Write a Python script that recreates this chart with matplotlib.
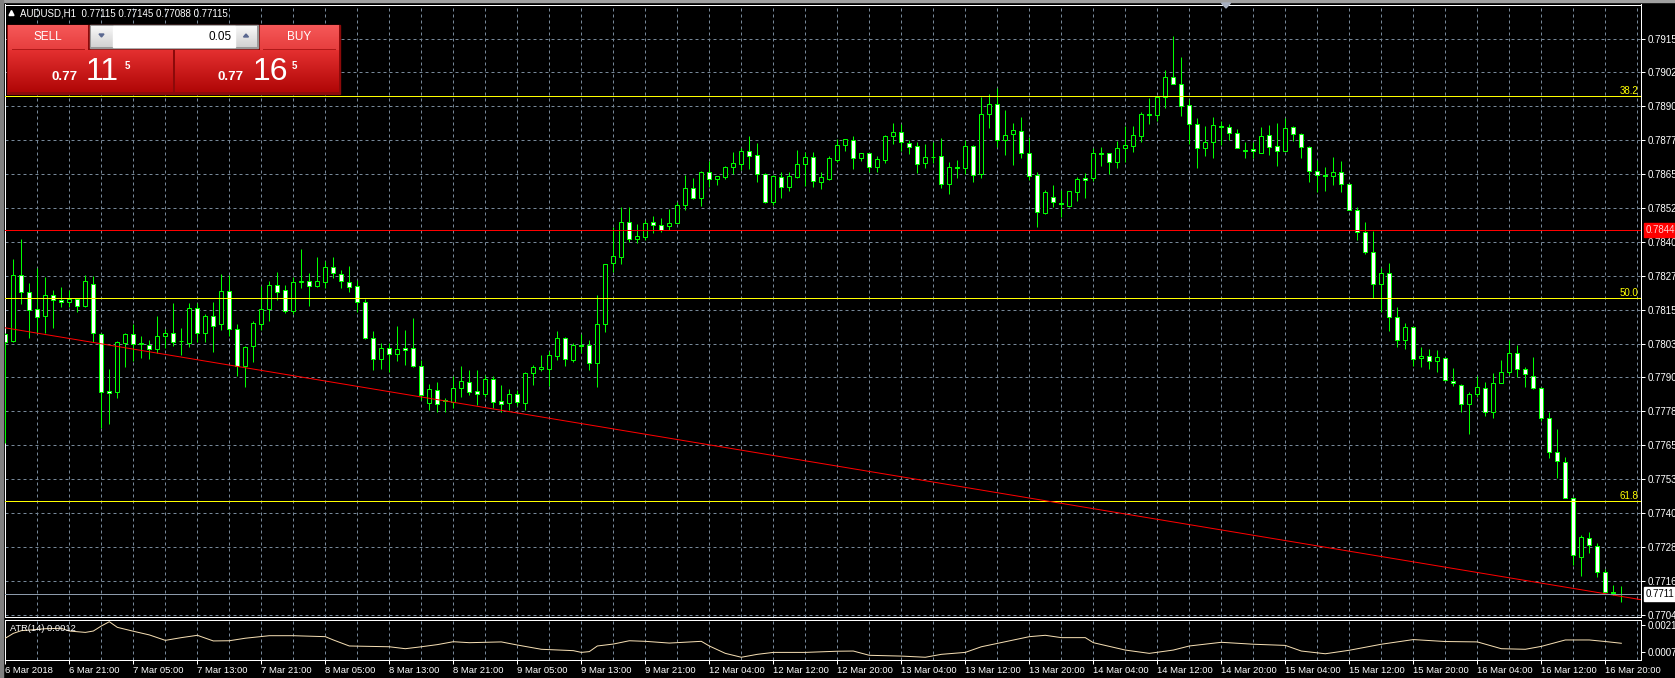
import numpy as np
import matplotlib
matplotlib.use("Agg")
import matplotlib.pyplot as plt
from matplotlib.patches import Rectangle, Polygon

# ---------------- data ----------------
title_text = "AUDUSD,H1  0.77115 0.77145 0.77088 0.77115"

time_labels = ["6 Mar 2018", "6 Mar 21:00", "7 Mar 05:00", "7 Mar 13:00", "7 Mar 21:00",
               "8 Mar 05:00", "8 Mar 13:00", "8 Mar 21:00", "9 Mar 05:00", "9 Mar 13:00",
               "9 Mar 21:00", "12 Mar 04:00", "12 Mar 12:00", "12 Mar 20:00", "13 Mar 04:00",
               "13 Mar 12:00", "13 Mar 20:00", "14 Mar 04:00", "14 Mar 12:00", "14 Mar 20:00",
               "15 Mar 04:00", "15 Mar 12:00", "15 Mar 20:00", "16 Mar 04:00", "16 Mar 12:00",
               "16 Mar 20:00"]
label_bars = list(range(0, 201, 8))

opens = [
    0.78068, 0.78043, 0.78286, 0.78221, 0.78159, 0.78133, 0.78210, 0.78192, 0.78185, 0.78197,
    0.78170, 0.78250, 0.78067, 0.77858, 0.77857, 0.78035, 0.78067, 0.78030, 0.78028, 0.78015,
    0.78060, 0.78072, 0.78042, 0.78036, 0.78162, 0.78071, 0.78134, 0.78103, 0.78224, 0.78085,
    0.77952, 0.78023, 0.78103, 0.78159, 0.78248, 0.78228, 0.78151, 0.78257, 0.78261, 0.78243,
    0.78260, 0.78312, 0.78289, 0.78257, 0.78243, 0.78185, 0.78052, 0.77976, 0.78016, 0.77994,
    0.78016, 0.78016, 0.77951, 0.77816, 0.77863, 0.77827, 0.77819, 0.77869, 0.77891, 0.77860,
    0.77850, 0.77902, 0.77823, 0.77816, 0.77848, 0.77816, 0.77924, 0.77941, 0.77939, 0.77989,
    0.78052, 0.77973, 0.78028, 0.78027, 0.77961, 0.78103, 0.78327, 0.78351, 0.78477, 0.78415,
    0.78425, 0.78477, 0.78466, 0.78465, 0.78476, 0.78542, 0.78602, 0.78567, 0.78660, 0.78635,
    0.78644, 0.78681, 0.78692, 0.78737, 0.78722, 0.78653, 0.78553, 0.78643, 0.78605, 0.78644,
    0.78690, 0.78717, 0.78626, 0.78636, 0.78706, 0.78759, 0.78777, 0.78711, 0.78730, 0.78678,
    0.78706, 0.78792, 0.78807, 0.78769, 0.78756, 0.78693, 0.78717, 0.78719, 0.78616, 0.78678,
    0.78677, 0.78755, 0.78653, 0.78873, 0.78909, 0.78777, 0.78799, 0.78810, 0.78730, 0.78649,
    0.78512, 0.78569, 0.78547, 0.78538, 0.78589, 0.78638, 0.78638, 0.78731, 0.78730, 0.78699,
    0.78748, 0.78758, 0.78794, 0.78873, 0.78869, 0.78935, 0.79009, 0.78982, 0.78906, 0.78836,
    0.78748, 0.78770, 0.78829, 0.78825, 0.78803, 0.78742, 0.78746, 0.78732, 0.78797, 0.78756,
    0.78739, 0.78825, 0.78799, 0.78754, 0.78666, 0.78650, 0.78648, 0.78660, 0.78616, 0.78522,
    0.78441, 0.78367, 0.78250, 0.78290, 0.78132, 0.78046, 0.78095, 0.77979, 0.77989, 0.77969,
    0.77981, 0.77897, 0.77882, 0.77811, 0.77847, 0.77872, 0.77782, 0.77890, 0.77930, 0.77998,
    0.77939, 0.77916, 0.77869, 0.77760, 0.77635, 0.77598, 0.77469, 0.77253, 0.77320, 0.77293,
    0.77198, 0.77123, 0.77115]
highs = [
    0.78072, 0.78343, 0.78416, 0.78255, 0.78309, 0.78276, 0.78229, 0.78240, 0.78229, 0.78199,
    0.78284, 0.78279, 0.78071, 0.77940, 0.78042, 0.78071, 0.78103, 0.78062, 0.78045, 0.78134,
    0.78087, 0.78182, 0.78090, 0.78182, 0.78182, 0.78140, 0.78185, 0.78287, 0.78283, 0.78105,
    0.78024, 0.78116, 0.78244, 0.78263, 0.78295, 0.78248, 0.78277, 0.78379, 0.78292, 0.78350,
    0.78336, 0.78350, 0.78301, 0.78317, 0.78265, 0.78196, 0.78079, 0.78034, 0.78034, 0.78097,
    0.78082, 0.78127, 0.77973, 0.77885, 0.77893, 0.77834, 0.77914, 0.77951, 0.77936, 0.77936,
    0.77918, 0.77914, 0.77882, 0.77866, 0.77863, 0.77928, 0.77955, 0.77991, 0.78007, 0.78079,
    0.78056, 0.78034, 0.78068, 0.78046, 0.78211, 0.78324, 0.78461, 0.78532, 0.78532, 0.78470,
    0.78486, 0.78500, 0.78494, 0.78526, 0.78550, 0.78650, 0.78638, 0.78665, 0.78703, 0.78647,
    0.78683, 0.78735, 0.78750, 0.78793, 0.78767, 0.78657, 0.78650, 0.78662, 0.78660, 0.78742,
    0.78733, 0.78736, 0.78662, 0.78720, 0.78782, 0.78781, 0.78793, 0.78730, 0.78732, 0.78720,
    0.78797, 0.78841, 0.78836, 0.78778, 0.78770, 0.78764, 0.78770, 0.78785, 0.78697, 0.78704,
    0.78778, 0.78760, 0.78937, 0.78946, 0.78968, 0.78888, 0.78840, 0.78863, 0.78791, 0.78660,
    0.78595, 0.78614, 0.78595, 0.78593, 0.78644, 0.78657, 0.78750, 0.78752, 0.78731, 0.78776,
    0.78830, 0.78830, 0.78880, 0.78933, 0.78940, 0.79035, 0.79159, 0.79082, 0.78929, 0.78858,
    0.78830, 0.78862, 0.78849, 0.78838, 0.78819, 0.78770, 0.78772, 0.78827, 0.78833, 0.78840,
    0.78858, 0.78830, 0.78803, 0.78756, 0.78705, 0.78678, 0.78715, 0.78702, 0.78617, 0.78532,
    0.78477, 0.78445, 0.78309, 0.78327, 0.78168, 0.78107, 0.78097, 0.78020, 0.78012, 0.78009,
    0.77985, 0.77943, 0.77885, 0.77857, 0.77916, 0.77894, 0.77924, 0.77973, 0.78046, 0.78028,
    0.77948, 0.77985, 0.77873, 0.77784, 0.77719, 0.77617, 0.77473, 0.77332, 0.77344, 0.77302,
    0.77208, 0.77149, 0.77145]
lows = [
    0.77669, 0.78039, 0.78177, 0.78055, 0.78071, 0.78071, 0.78089, 0.78168, 0.78168, 0.78150,
    0.78168, 0.78040, 0.77724, 0.77738, 0.77833, 0.77948, 0.77970, 0.77982, 0.77977, 0.77998,
    0.78018, 0.78025, 0.77992, 0.78022, 0.78040, 0.78040, 0.78002, 0.78082, 0.78062, 0.77916,
    0.77875, 0.77967, 0.78082, 0.78116, 0.78194, 0.78146, 0.78143, 0.78236, 0.78172, 0.78240,
    0.78236, 0.78272, 0.78238, 0.78221, 0.78148, 0.78050, 0.77938, 0.77940, 0.77928, 0.77970,
    0.77956, 0.77946, 0.77827, 0.77790, 0.77783, 0.77783, 0.77797, 0.77839, 0.77845, 0.77808,
    0.77839, 0.77797, 0.77783, 0.77790, 0.77805, 0.77790, 0.77882, 0.77934, 0.77878, 0.77973,
    0.77952, 0.77967, 0.77998, 0.77936, 0.77873, 0.78077, 0.78296, 0.78323, 0.78406, 0.78400,
    0.78412, 0.78437, 0.78443, 0.78449, 0.78476, 0.78522, 0.78561, 0.78537, 0.78608, 0.78614,
    0.78636, 0.78653, 0.78669, 0.78672, 0.78626, 0.78549, 0.78541, 0.78567, 0.78592, 0.78638,
    0.78610, 0.78608, 0.78598, 0.78631, 0.78697, 0.78739, 0.78672, 0.78702, 0.78662, 0.78662,
    0.78695, 0.78764, 0.78738, 0.78728, 0.78659, 0.78677, 0.78695, 0.78602, 0.78582, 0.78640,
    0.78654, 0.78626, 0.78640, 0.78824, 0.78754, 0.78724, 0.78687, 0.78714, 0.78632, 0.78460,
    0.78508, 0.78534, 0.78498, 0.78534, 0.78555, 0.78565, 0.78628, 0.78684, 0.78654, 0.78677,
    0.78699, 0.78736, 0.78772, 0.78838, 0.78848, 0.78897, 0.78982, 0.78867, 0.78763, 0.78677,
    0.78721, 0.78714, 0.78760, 0.78778, 0.78750, 0.78711, 0.78714, 0.78732, 0.78724, 0.78683,
    0.78739, 0.78775, 0.78714, 0.78626, 0.78587, 0.78592, 0.78614, 0.78587, 0.78522, 0.78412,
    0.78361, 0.78199, 0.78148, 0.78080, 0.78020, 0.78012, 0.77951, 0.77948, 0.77939, 0.77928,
    0.77897, 0.77879, 0.77784, 0.77701, 0.77836, 0.77769, 0.77760, 0.77890, 0.77918, 0.77912,
    0.77873, 0.77866, 0.77751, 0.77613, 0.77542, 0.77467, 0.77223, 0.77182, 0.77265, 0.77180,
    0.77124, 0.77113, 0.77088]
closes = [
    0.78039, 0.78283, 0.78221, 0.78155, 0.78129, 0.78210, 0.78192, 0.78185, 0.78197, 0.78170,
    0.78261, 0.78071, 0.77855, 0.77851, 0.78038, 0.78067, 0.78030, 0.78035, 0.78015, 0.78061,
    0.78072, 0.78040, 0.78041, 0.78162, 0.78071, 0.78134, 0.78098, 0.78224, 0.78085, 0.77952,
    0.78022, 0.78107, 0.78159, 0.78248, 0.78221, 0.78151, 0.78257, 0.78261, 0.78243, 0.78261,
    0.78312, 0.78290, 0.78261, 0.78239, 0.78185, 0.78052, 0.77976, 0.78016, 0.77994, 0.78012,
    0.78009, 0.77952, 0.77845, 0.77866, 0.77812, 0.77823, 0.77869, 0.77896, 0.77857, 0.77848,
    0.77904, 0.77819, 0.77812, 0.77848, 0.77819, 0.77924, 0.77946, 0.77948, 0.77990, 0.78052,
    0.77976, 0.78027, 0.78026, 0.77963, 0.78103, 0.78323, 0.78353, 0.78477, 0.78415, 0.78427,
    0.78473, 0.78466, 0.78449, 0.78473, 0.78540, 0.78602, 0.78567, 0.78660, 0.78635, 0.78647,
    0.78679, 0.78693, 0.78738, 0.78721, 0.78653, 0.78553, 0.78647, 0.78605, 0.78646, 0.78690,
    0.78715, 0.78627, 0.78642, 0.78711, 0.78760, 0.78781, 0.78711, 0.78730, 0.78678, 0.78708,
    0.78792, 0.78808, 0.78770, 0.78753, 0.78690, 0.78715, 0.78717, 0.78616, 0.78678, 0.78676,
    0.78755, 0.78649, 0.78873, 0.78909, 0.78777, 0.78797, 0.78814, 0.78730, 0.78648, 0.78514,
    0.78587, 0.78550, 0.78543, 0.78591, 0.78635, 0.78633, 0.78730, 0.78728, 0.78699, 0.78748,
    0.78760, 0.78796, 0.78873, 0.78871, 0.78935, 0.79009, 0.78982, 0.78902, 0.78836, 0.78748,
    0.78770, 0.78832, 0.78825, 0.78803, 0.78750, 0.78738, 0.78738, 0.78793, 0.78754, 0.78739,
    0.78821, 0.78799, 0.78754, 0.78666, 0.78649, 0.78648, 0.78660, 0.78616, 0.78522, 0.78441,
    0.78367, 0.78250, 0.78290, 0.78132, 0.78046, 0.78093, 0.77977, 0.77989, 0.77969, 0.77983,
    0.77900, 0.77888, 0.77812, 0.77847, 0.77873, 0.77782, 0.77890, 0.77930, 0.77998, 0.77939,
    0.77921, 0.77869, 0.77760, 0.77635, 0.77603, 0.77467, 0.77259, 0.77324, 0.77296, 0.77198,
    0.77125, 0.77120, 0.77115]

price_ticks = [0.79150, 0.79026, 0.78902, 0.78777, 0.78654, 0.78530, 0.78405, 0.78281, 0.78157,
               0.78033, 0.77909, 0.77785, 0.77661, 0.77537, 0.77413, 0.77289, 0.77164, 0.77040]
price_tick_labels = ["0.7915", "0.7902", "0.7890", "0.7877", "0.7865", "0.7852",
                     "0.7840", "0.7827", "0.7815", "0.7803", "0.7790", "0.7778",
                     "0.7765", "0.7753", "0.7740", "0.7728", "0.7716", "0.7704"]

fib_levels = [0.78938, 0.78199, 0.77457]
fib_names = ["38.2", "50.0", "61.8"]
hline_price = 0.78448
hline_label = "0.7844"
bid_price = 0.77115
bid_label = "0.7711"
trend_start = (-0.67, 0.78094)
trend_end = (203.96, 0.77098)

atr_bars = [0, 1, 2, 3, 5, 7, 8, 10, 11, 12, 13, 14, 16, 18, 20, 22, 24, 26, 28, 30, 33, 36,
            40, 41, 43, 48, 50, 52, 54, 56, 58, 62, 64, 67, 71, 72, 73, 74, 76, 78, 80, 83, 87,
            88, 90, 92, 94, 96, 100, 104, 106, 108, 112, 115, 117, 120, 122, 125, 128, 130, 132,
            135, 136, 140, 143, 146, 148, 152, 156, 160, 162, 165, 168, 172, 176, 180, 184, 187,
            190, 192, 195, 198, 200, 202]
atr_values = [0.00143, 0.00168, 0.00182, 0.00185, 0.00192, 0.00194, 0.00180, 0.00173, 0.00180,
              0.00206, 0.00228, 0.00199, 0.00179, 0.00160, 0.00132, 0.00146, 0.00158, 0.00129,
              0.00130, 0.00143, 0.00156, 0.00156, 0.00151, 0.00134, 0.00103, 0.00099, 0.00089,
              0.00099, 0.00110, 0.00125, 0.00120, 0.00124, 0.00108, 0.00086, 0.00079, 0.00070,
              0.00074, 0.00103, 0.00113, 0.00130, 0.00127, 0.00118, 0.00127, 0.00103, 0.00065,
              0.00045, 0.00060, 0.00070, 0.00070, 0.00076, 0.00077, 0.00055, 0.00051, 0.00045,
              0.00060, 0.00070, 0.00099, 0.00125, 0.00151, 0.00158, 0.00146, 0.00146, 0.00120,
              0.00082, 0.00065, 0.00082, 0.00103, 0.00122, 0.00112, 0.00106, 0.00077, 0.00063,
              0.00081, 0.00112, 0.00136, 0.00126, 0.00124, 0.00089, 0.00086, 0.00101, 0.00134,
              0.00134, 0.00126, 0.00117]
atr_ticks = [0.0021, 0.0007]
atr_tick_labels = ["0.0021", "0.0007"]
atr_title = "ATR(14) 0.0012"

lot_text = "0.05"
sell_parts = ("0.77", "11", "5")
buy_parts = ("0.77", "16", "5")

# ---------------- styling ----------------
W, H = 1675, 678
FONT = ["Liberation Sans", "DejaVu Sans"]
LIME = "#00FF00"
GRID = "#778899"
PX = 0.72  # 1 pixel in points

plt.rcParams["font.family"] = FONT

fig = plt.figure(figsize=(W / 100, H / 100), dpi=100, facecolor="black")


def frac(x0, y0, x1, y1):
    return [x0 / W, 1 - y1 / H, (x1 - x0) / W, (y1 - y0) / H]


ax = fig.add_axes(frac(4.5, 4.5, 1640.5, 616.5))
axa = fig.add_axes(frac(4.5, 619.5, 1640.5, 659.5))

XMIN = -0.104
XMAX = XMIN + 1636 / 8.0

for a in (ax, axa):
    a.set_facecolor("black")
    a.set_xlim(XMIN, XMAX)
    for s in a.spines.values():
        s.set_color("white")
        s.set_linewidth(PX)

ax.set_ylim(0.77034, 0.792745)
axa.set_ylim(0.000334, 0.002394)

# grid
for p in price_ticks:
    ax.axhline(p, color=GRID, lw=PX, ls=(0, (3, 3)), zorder=1)
for b in range(4, 205, 4):
    ax.axvline(b, color=GRID, lw=PX, ls=(0, (3, 3)), zorder=1)
    axa.axvline(b, color=GRID, lw=PX, ls=(0, (3, 3)), zorder=1)

# candles
o = np.array(opens); h = np.array(highs); l = np.array(lows); c = np.array(closes)
x = np.arange(len(o))
ax.vlines(x, l, h, color=LIME, lw=PX, zorder=3)
bull = c > o
ax.bar(x, np.abs(c - o), bottom=np.minimum(o, c), width=0.5,
       color=np.where(bull, "black", "white"), edgecolor=LIME, linewidth=PX, zorder=4)

# objects
for lv, nm in zip(fib_levels, fib_names):
    ax.axhline(lv, color="#FFFF00", lw=PX, zorder=5)
    ax.annotate(nm, xy=(1, lv), xycoords=("axes fraction", "data"), xytext=(-2, 5),
                textcoords="offset pixels", ha="right", va="center", color="#FFFF00",
                fontsize=7, zorder=6)
ax.axhline(hline_price, color="#FF0000", lw=PX, zorder=5)
ax.axline(trend_start, trend_end, color="#FF0000", lw=PX, zorder=5)
ax.axhline(bid_price, color="#8C9AAA", lw=PX, zorder=5)

# price axis
ax.yaxis.tick_right()
ax.set_yticks(price_ticks)
ax.set_yticklabels(price_tick_labels)
ax.tick_params(axis="y", colors="white", length=3, width=PX, pad=2, labelsize=7)
ax.set_xticks([])

ax.annotate(hline_label, xy=(1, hline_price), xycoords=("axes fraction", "data"),
            xytext=(5, 0), textcoords="offset pixels", ha="left", va="center",
            color="#FFD0D0", fontsize=7, annotation_clip=False,
            bbox=dict(boxstyle="square,pad=0.2", fc="#FF0000", ec="#FF0000"), zorder=7)
ax.annotate(bid_label, xy=(1, bid_price), xycoords=("axes fraction", "data"),
            xytext=(5, 0), textcoords="offset pixels", ha="left", va="center",
            color="black", fontsize=7, annotation_clip=False,
            bbox=dict(boxstyle="square,pad=0.2", fc="white", ec="white"), zorder=7)

# ATR panel
axa.plot(atr_bars, atr_values, color="#F5DEB3", lw=PX, zorder=3)
axa.text(0.0033, 0.78, atr_title, transform=axa.transAxes, color="white",
         fontsize=6.7, va="center", ha="left")
axa.yaxis.tick_right()
axa.set_yticks(atr_ticks)
axa.set_yticklabels(atr_tick_labels)
axa.tick_params(axis="y", colors="white", length=3, width=PX, pad=2, labelsize=7)
axa.set_xticks(label_bars)
axa.set_xticklabels(time_labels, ha="left")
axa.tick_params(axis="x", colors="white", length=3, width=PX, pad=2, labelsize=6.8)

# ---------------- overlay (title + trade panel) ----------------
ov = fig.add_axes([0, 0, 1, 1], zorder=10)
ov.patch.set_alpha(0)
ov.axis("off")


def grad(x0, y0, x1, y1, top, bot):
    t = np.linspace(0, 1, 64)[:, None, None]
    a_ = np.array(matplotlib.colors.to_rgb(top))[None, None, :]
    b_ = np.array(matplotlib.colors.to_rgb(bot))[None, None, :]
    ov.imshow((1 - t) * a_ + t * b_, extent=(x0, x1, y1, y0), aspect="auto",
              interpolation="bilinear", zorder=2)


# window frame
ov.add_patch(Rectangle((0, 0), W, 1.5, color="#A0A0A0", zorder=1))
ov.add_patch(Rectangle((0, 0), 3, H, color="#808080", zorder=1))
# chart shift marker
ov.add_patch(Polygon([(1221.5, 3), (1230.5, 3), (1226, 8)], closed=True, color="#A8B0C0", zorder=3))

# title
ov.add_patch(Polygon([(9, 15.5), (14, 15.5), (11.5, 10.5)], closed=True, color="white", zorder=3))
ov.text(20, 13, title_text, color="white", fontsize=7, va="center", ha="left", zorder=3)

# panel
ov.add_patch(Rectangle((7, 25), 332.5, 68.5, color="#8C0A0A", zorder=1))
grad(8, 25.5, 87.5, 50, "#F65858", "#E63E3E")
grad(259.5, 25.5, 338.5, 50, "#F65858", "#E63E3E")
ov.plot([12, 84], [49, 49], color="#B01818", lw=PX, zorder=3)
ov.plot([263, 335], [49, 49], color="#B01818", lw=PX, zorder=3)
ov.text(47.5, 37, "SELL", color="white", fontsize=8.5, ha="center", va="center", zorder=4)
ov.text(299, 37, "BUY", color="white", fontsize=8.5, ha="center", va="center", zorder=4)

ov.add_patch(Rectangle((89.5, 25), 168, 23, color="#9A9A9A", zorder=1))
grad(90.5, 26, 112, 47, "#F8F8F8", "#D2D2D2")
grad(235.5, 26, 256.5, 47, "#F8F8F8", "#D2D2D2")
ov.add_patch(Rectangle((113, 26), 122, 21, color="white", zorder=2))
ov.add_patch(Polygon([(99, 34), (104, 34), (101.5, 37)], closed=True, color="#5A6890", zorder=3))
ov.add_patch(Polygon([(243.5, 37), (248.5, 37), (246, 34)], closed=True, color="#5A6890", zorder=3))
ov.text(232, 36.5, lot_text, color="black", fontsize=8.5, ha="right", va="center", zorder=4)

grad(8, 50.5, 173, 92.5, "#E43030", "#B00606")
grad(175, 50.5, 338.5, 92.5, "#E43030", "#B00606")

for (small, big, sup), xs, xb, xp in ((sell_parts, 52, 86, 125), (buy_parts, 218, 253, 292)):
    ov.text(xs, 80, small, color="white", fontsize=9.5, fontweight="bold",
            ha="left", va="baseline", zorder=4)
    ov.text(xb, 80, big, color="white", fontsize=23, ha="left", va="baseline", zorder=4)
    ov.text(xp, 69, sup, color="white", fontsize=7, fontweight="bold",
            ha="left", va="baseline", zorder=4)

ov.set_xlim(0, W)
ov.set_ylim(H, 0)

fig.savefig("out.png", dpi=100, facecolor="black")
